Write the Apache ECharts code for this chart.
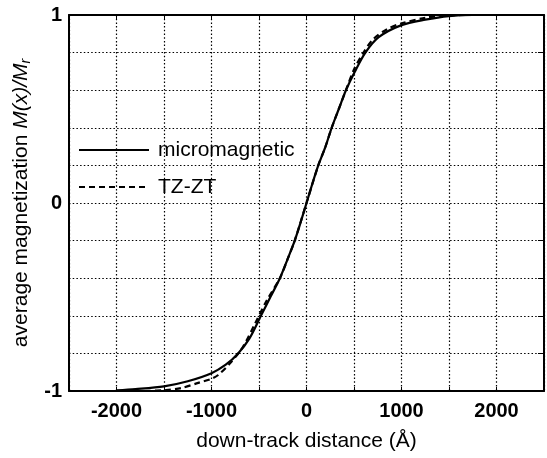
<!DOCTYPE html>
<html>
<head>
<meta charset="utf-8">
<script src="https://cdn.jsdelivr.net/npm/echarts@6.0.0/dist/echarts.min.js"></script>
<style>
  html, body { margin: 0; padding: 0; background: #fff; }
  #chart { width: 547px; height: 458px; }
</style>
</head>
<body>
<div id="chart"></div>
<script>
// micromagnetic simulation
var microX = [-2000, -1800, -1500, -1250, -1000, -850, -720, -600, -480, -380, -280, -200, -124, -60, 0, 60, 124, 200, 265, 340, 415, 510, 620, 760, 1000, 1250, 1500, 1750, 2000]
var microY = [-0.997, -0.99, -0.975, -0.948, -0.905, -0.86, -0.8, -0.72, -0.6, -0.5, -0.4, -0.3, -0.2, -0.1, 0, 0.1, 0.2, 0.3, 0.4, 0.5, 0.6, 0.7, 0.8, 0.882, 0.946, 0.975, 0.994, 1.0, 1.0]

// TZ-ZT model
var tzX = [-1700, -1480, -1316, -1140, -1000, -930, -800, -670, -540, -420, -280, -200, -124, 0, 124, 200, 265, 340, 415, 500, 600, 700, 850, 1000, 1250, 1500, 1750]
var tzY = [-1.0, -0.995, -0.984, -0.957, -0.935, -0.915, -0.85, -0.766, -0.64, -0.52, -0.4, -0.3, -0.2, 0, 0.2, 0.3, 0.4, 0.5, 0.6, 0.71, 0.8, 0.87, 0.925, 0.955, 0.985, 0.999, 1.0]

var xLabels = [-2000, -1000, 0, 1000, 2000]
var yLabels = [-1, 0, 1]

function pairs (xs, ys) {
  return xs.map(function (x, i) { return [x, ys[i]] })
}

var font = 'Liberation Sans, Arial, Helvetica, sans-serif'
var dotted = { color: '#000', width: 1.2, type: [1.5, 2.2] }

var chart = echarts.init(document.getElementById('chart'))
chart.setOption({
  animation: false,
  textStyle: { fontFamily: font, color: '#000' },
  grid: { left: 69, top: 15, right: -3, bottom: 67 },
  legend: {
    orient: 'vertical',
    left: 73,
    top: 133,
    itemWidth: 70,
    itemHeight: 24,
    itemGap: 13,
    itemStyle: { opacity: 0 },
    textStyle: { fontSize: 21, color: '#000', fontFamily: font, lineHeight: 24, padding: [0, 0, 0, 4] },
    data: ['micromagnetic', 'TZ-ZT']
  },
  xAxis: [
    {
      type: 'value',
      min: -2500,
      max: 2500,
      interval: 500,
      name: 'down-track distance (Å)',
      nameLocation: 'middle',
      nameGap: 40,
      nameTextStyle: { fontSize: 21, color: '#000', fontFamily: font },
      axisLine: { onZero: false, lineStyle: { color: '#000', width: 2 } },
      axisTick: { inside: true, length: 4, lineStyle: { color: '#000' } },
      axisLabel: {
        margin: 10,
        fontSize: 20,
        fontWeight: 'bold',
        color: '#000',
        formatter: function (v) { return xLabels.indexOf(v) >= 0 ? String(v) : '' }
      },
      splitLine: { show: true, lineStyle: dotted }
    },
    {
      type: 'value',
      position: 'top',
      min: -2500,
      max: 2500,
      interval: 500,
      axisLine: { onZero: false, lineStyle: { color: '#000', width: 2 } },
      axisTick: { inside: true, length: 5, lineStyle: { color: '#000' } },
      axisLabel: { show: false },
      splitLine: { show: false }
    }
  ],
  yAxis: [
    {
      type: 'value',
      min: -1,
      max: 1,
      interval: 0.2,
      name: '{a|average magnetization }{i|M(x)/M}{s|r}',
      nameLocation: 'middle',
      nameGap: 32,
      nameRotate: 90,
      nameTextStyle: {
        rich: {
          a: { fontSize: 21, color: '#000', fontFamily: font },
          i: { fontSize: 21, color: '#000', fontFamily: font, fontStyle: 'italic' },
          s: { fontSize: 14, color: '#000', fontFamily: font, fontStyle: 'italic', padding: [10, 0, 0, 0] }
        }
      },
      axisLine: { onZero: false, lineStyle: { color: '#000', width: 2 } },
      axisTick: { show: false },
      axisLabel: {
        margin: 7,
        fontSize: 20,
        fontWeight: 'bold',
        color: '#000',
        formatter: function (v) {
          var r = Math.round(v)
          return (Math.abs(v - r) < 1e-6 && yLabels.indexOf(r) >= 0) ? String(r) : ''
        }
      },
      splitLine: { show: true, lineStyle: dotted }
    },
    {
      type: 'value',
      position: 'right',
      min: -1,
      max: 1,
      interval: 0.2,
      axisLine: { onZero: false, lineStyle: { color: '#000', width: 2 } },
      axisTick: { inside: true, length: 6, lineStyle: { color: '#000' } },
      axisLabel: { show: false },
      splitLine: { show: false }
    }
  ],
  series: [
    {
      name: 'micromagnetic',
      type: 'line',
      data: pairs(microX, microY),
      smooth: 0.3,
      showSymbol: false,
      symbol: 'none',
      symbolSize: 0,
      lineStyle: { color: '#000', width: 2.2, type: 'solid' },
      itemStyle: { color: '#000' },
      z: 5
    },
    {
      name: 'TZ-ZT',
      type: 'line',
      data: pairs(tzX, tzY),
      smooth: 0.3,
      showSymbol: false,
      symbol: 'none',
      symbolSize: 0,
      lineStyle: { color: '#000', width: 2.2, type: [6, 4] },
      itemStyle: { color: '#000' },
      z: 4
    }
  ]
})
</script>
</body>
</html>
